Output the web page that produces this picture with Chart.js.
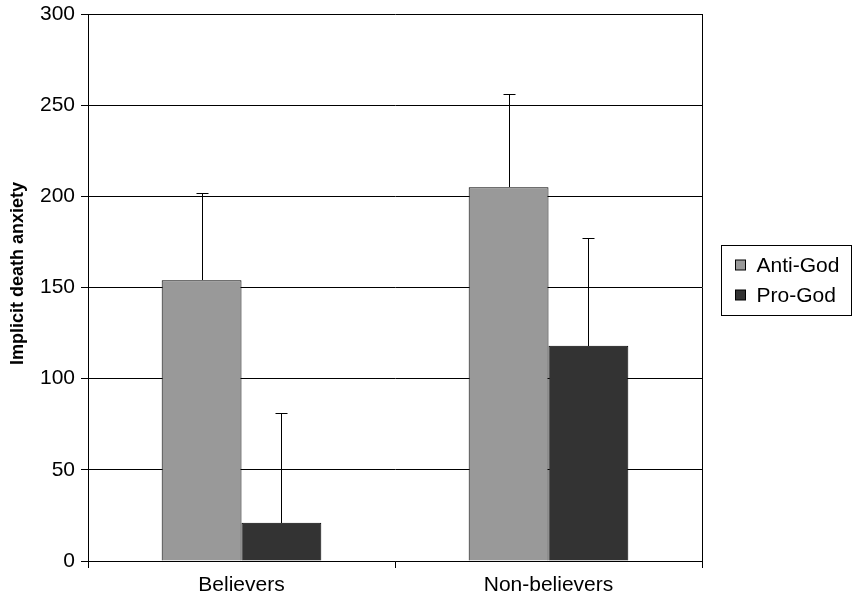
<!DOCTYPE html>
<html lang="en">
<head>
  <meta charset="UTF-8" />
  <title>Implicit death anxiety</title>
  <script src="https://cdn.jsdelivr.net/npm/chart.js"></script>
  <style>
    html, body { margin: 0; padding: 0; background: #fff; }
    #wrap { width: 852px; height: 602px; }
  </style>
</head>
<body>
  <div id="wrap"><canvas id="grafica" width="852" height="602"></canvas></div>

  <script>
    const categorias = ["Believers", "Non-believers"];
    const series = ["Anti-God", "Pro-God"];
    const antiGod = [154, 205];
    const proGod = [21, 118];
    // upper end of each error bar
    const antiGodErr = [202, 256];
    const proGodErr = [81, 177];
    const colores = ["#999999", "#333333"];
    const tituloY = "Implicit death anxiety";

    const fuente = "'Liberation Sans', Arial, sans-serif";

    // error bars (upper only), right frame line and y title
    const barrasError = {
      id: "barrasError",
      afterDatasetsDraw(chart) {
        const ctx = chart.ctx;
        const y = chart.scales.y;
        const errores = [antiGodErr, proGodErr];
        ctx.save();
        ctx.strokeStyle = "#000";
        ctx.lineWidth = 1;
        chart.data.datasets.forEach((ds, i) => {
          chart.getDatasetMeta(i).data.forEach((bar, j) => {
            const x = Math.round(bar.x) + 0.5;
            const yTop = Math.round(y.getPixelForValue(errores[i][j])) + 0.5;
            ctx.beginPath();
            ctx.moveTo(x, Math.round(bar.y));
            ctx.lineTo(x, yTop);
            ctx.moveTo(x - 6, yTop);
            ctx.lineTo(x + 6, yTop);
            ctx.stroke();
          });
        });
        const a = chart.chartArea;
        ctx.beginPath();
        ctx.moveTo(Math.round(a.right) + 0.5, a.top);
        ctx.lineTo(Math.round(a.right) + 0.5, a.bottom);
        ctx.stroke();

        // y axis title, a bit above the middle like the original
        ctx.translate(18, (a.top + a.bottom) / 2 - 14);
        ctx.rotate(-Math.PI / 2);
        ctx.font = "bold 18px " + fuente;
        ctx.fillStyle = "#000";
        ctx.textAlign = "center";
        ctx.textBaseline = "middle";
        ctx.fillText(tituloY, 0, 0);
        ctx.restore();
      }
    };

    // legend with a box on the right
    const leyenda = {
      id: "leyenda",
      afterDraw(chart) {
        const ctx = chart.ctx;
        const a = chart.chartArea;
        const x0 = Math.round(a.right) + 19.5;
        const y0 = 245.5;
        ctx.save();
        ctx.strokeStyle = "#000";
        ctx.lineWidth = 1;
        ctx.strokeRect(x0, y0, 130, 70);
        ctx.font = "21px " + fuente;
        ctx.textBaseline = "middle";
        series.forEach((nombre, i) => {
          const cy = y0 + 19.5 + i * 30;
          ctx.fillStyle = colores[i];
          ctx.fillRect(x0 + 14, cy - 5, 10, 10);
          ctx.strokeRect(x0 + 14, cy - 5, 10, 10);
          ctx.fillStyle = "#000";
          ctx.fillText(nombre, x0 + 35, cy + 1);
        });
        ctx.restore();
      }
    };

    new Chart(document.getElementById("grafica"), {
      type: "bar",
      data: {
        labels: categorias,
        datasets: [
          { label: series[0], data: antiGod, backgroundColor: colores[0], borderColor: "#000", borderWidth: 1 },
          { label: series[1], data: proGod, backgroundColor: colores[1], borderColor: "#000", borderWidth: 1 }
        ]
      },
      options: {
        responsive: false,
        animation: false,
        layout: { padding: { top: 14, right: 150, left: 0, bottom: 0 } },
        plugins: { legend: { display: false }, tooltip: { enabled: false } },
        datasets: { bar: { barPercentage: 1, categoryPercentage: 0.52 } },
        scales: {
          x: {
            afterFit(scale) { scale.height = 41; scale.paddingLeft = 0; scale.paddingRight = 0; },
            grid: { drawOnChartArea: false, drawTicks: true, tickLength: 7, offset: true, color: "#000" },
            border: { color: "#000" },
            ticks: { color: "#000", font: { family: fuente, size: 21 }, padding: 5 }
          },
          y: {
            min: 0,
            max: 300,
            afterFit(scale) { scale.width = 88; scale.paddingTop = 0; scale.paddingBottom = 0; },
            ticks: { stepSize: 50, color: "#000", font: { family: fuente, size: 21 }, padding: 6 },
            grid: { color: "#000", tickLength: 7 },
            border: { color: "#000" }
          }
        }
      },
      plugins: [barrasError, leyenda]
    });
  </script>
</body>
</html>
